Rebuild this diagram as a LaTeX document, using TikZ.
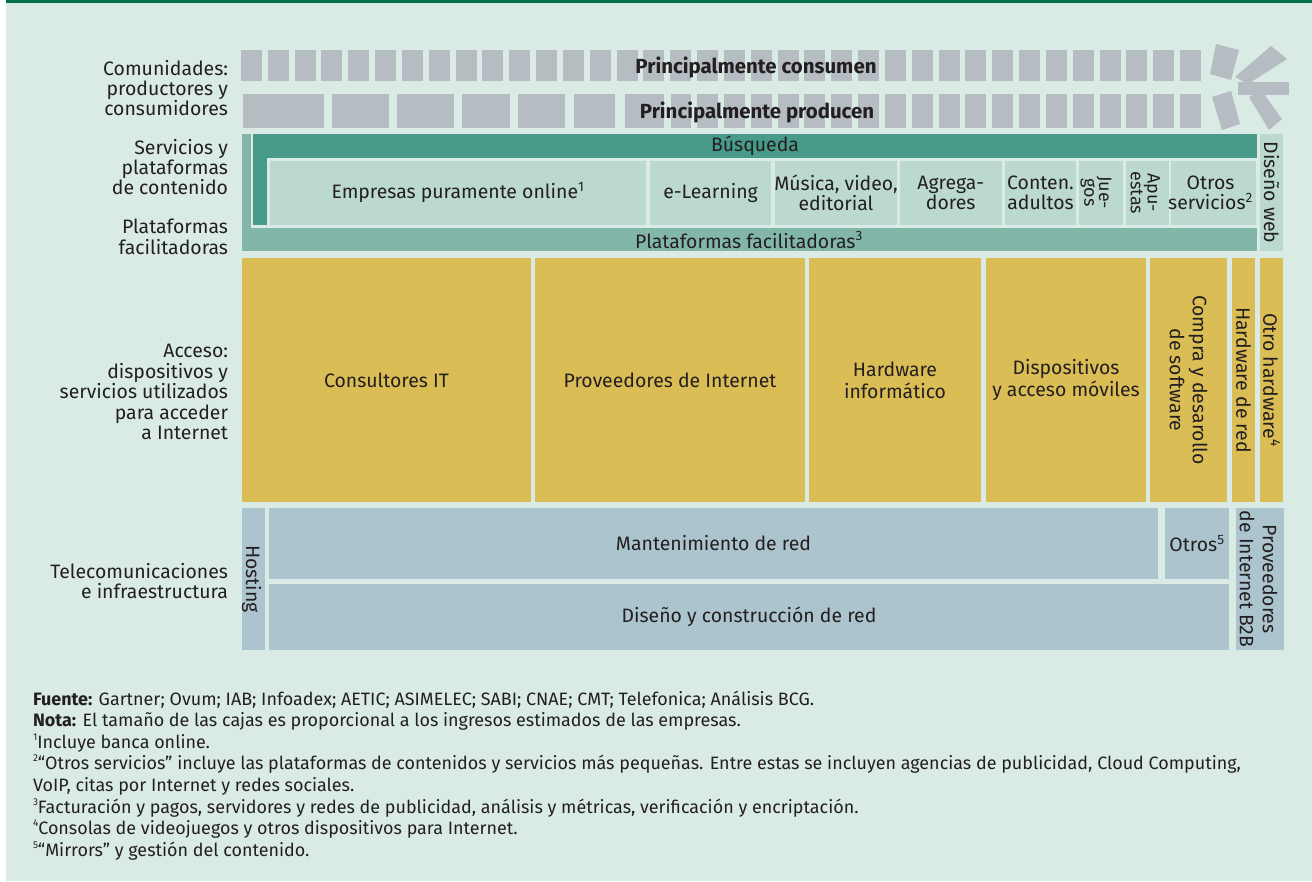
\documentclass[tikz,border=0pt]{standalone}
\usepackage{fontspec}
\setmainfont{Fira Sans}
\usetikzlibrary{fit}
\definecolor{bg}{HTML}{DAEBE5}
\definecolor{topbar}{HTML}{00704E}
\definecolor{grayb}{HTML}{B5BCC2}
\definecolor{tealdk}{HTML}{489A89}
\definecolor{tealmd}{HTML}{82B6A9}
\definecolor{teallt}{HTML}{BBD8D1}
\definecolor{yel}{HTML}{DBBD56}
\definecolor{blu}{HTML}{ABC4CE}
\definecolor{ink}{HTML}{231F20}
\newcommand\mainf{\fontsize{19.5}{20.5}\selectfont}
\newcommand\rotf{\fontsize{19.5}{23}\selectfont}
\newcommand\notef{\fontsize{18}{21.6}\selectfont}
\newcommand\smf{\fontsize{18}{15}\selectfont}
\newcommand\boldf{\fontsize{20.5}{20}\selectfont\bfseries}
\newcommand\supn[1]{\textsuperscript{#1}}
\newcommand\fnum[1]{\raisebox{0.42em}{\fontsize{10}{10}\selectfont #1}}
\newcommand\cellbox[6]{\node[fit={(#3,#4)(#5,#6)}, fill=#2, cellstyle] (#1) {};}
\begin{document}
\begin{tikzpicture}[x=1bp,y=-1bp,
  every node/.style={inner sep=0pt, outer sep=0pt, text=ink},
  cellstyle/.style={inner sep=0pt, outer sep=0pt, draw=none},
  ctext/.style={align=center, font=\mainf},
  rtext/.style={align=center, font=\rotf, rotate=-90},
  stext/.style={align=center, font=\smf, rotate=-90},
  lbl/.style={anchor=east, align=right, font=\mainf},
  note/.style={anchor=base west, font=\notef},
  hdr/.style={font=\boldf}
]
\useasboundingbox (0,0) rectangle (1312,881);
\fill[white] (0,0) rectangle (1312,881);
\fill[bg] (6,0) rectangle (1312,881);
\fill[topbar] (6,0) rectangle (1312,3);

% community rows
\foreach \i in {0,...,35} \fill[grayb] ({241+26.83*\i},50) rectangle ++(21,31);
\foreach \a/\b in {243/324,332/389,397/454,462/510,518/565,574/615,625/664,671/691}
  \fill[grayb] (\a,94) rectangle (\b,128);
\foreach \i in {17,...,35} \fill[grayb] ({241+26.83*\i},94) rectangle ++(21,34);
\fill[grayb] (1216,44)--(1239,50)--(1231,80)--(1210,74)--cycle;
\fill[grayb] (1271,46)--(1287,59)--(1248,84)--(1235,77)--cycle;
\fill[grayb] (1238,82) rectangle (1289,95);
\fill[grayb] (1212,97)--(1231,91)--(1240,124)--(1222,130)--cycle;
\fill[grayb] (1249,97)--(1261,90)--(1282,119)--(1269,130)--cycle;
\node[hdr] (cons) at (756,67) {Principalmente consumen};
\node[hdr] (prod) at (757,112) {Principalmente producen};

% services and platforms
\cellbox{plat}{tealmd}{242}{134}{1257}{251}
\fill[bg] (251,134) rectangle (1257,228);
\cellbox{busq}{tealdk}{252.5}{134}{1257}{224.5}
\fill[bg] (267,158) rectangle (1257,224.5);
\node[ctext] (busqt) at (755,146) {Búsqueda};
\node[ctext] (platt) at (749,240) {Plataformas facilitadoras\supn{3}};
\cellbox{empr}{teallt}{270}{161}{646}{224.5}
\cellbox{elea}{teallt}{650}{161}{771}{224.5}
\cellbox{musi}{teallt}{775}{161}{897}{224.5}
\cellbox{agre}{teallt}{900}{161}{1001.5}{224.5}
\cellbox{cont}{teallt}{1005}{161}{1076}{224.5}
\cellbox{jueg}{teallt}{1079}{161}{1123}{224.5}
\cellbox{apue}{teallt}{1126}{161}{1168.5}{224.5}
\cellbox{otro}{teallt}{1171}{161}{1256}{224.5}
\cellbox{disw}{teallt}{1260}{134}{1283}{251}
\node[ctext] at (empr) {Empresas puramente online\supn{1}};
\node[ctext] at (elea) {e-Learning};
\node[ctext] at (musi) {Música, video,\\editorial};
\node[ctext] at (agre) {Agrega-\\dores};
\node[ctext] at (cont) {Conten.\\adultos};
\node[stext] at ([xshift=-5]jueg.center) {Jue-\\gos};
\node[stext] at ([xshift=-2]apue.center) {Apu-\\estas};
\node[ctext] at ([xshift=-3]otro.center) {Otros\\servicios\supn{2}};
\node[rtext] at (disw) {Diseño web};

% access
\cellbox{cons2}{yel}{242}{258}{531}{502}
\cellbox{prov}{yel}{535}{258}{805}{502}
\cellbox{hard}{yel}{809}{258}{981}{502}
\cellbox{disp}{yel}{986}{258}{1146}{502}
\cellbox{comp}{yel}{1150}{258}{1227}{502}
\cellbox{hred}{yel}{1232}{258}{1255}{502}
\cellbox{ohar}{yel}{1260}{258}{1283}{502}
\node[ctext] at (cons2) {Consultores IT};
\node[ctext] at (prov) {Proveedores de Internet};
\node[ctext, font=\fontsize{19.5}{22}\selectfont] at (hard) {Hardware\\informático};
\node[ctext, font=\fontsize{19.5}{22}\selectfont] at (disp) {Dispositivos\\y acceso móviles};
\node[rtext] at (comp) {Compra y desarollo\\de software};
\node[rtext] at (hred) {Hardware de red};
\node[rtext] at (ohar) {Otro hardware\supn{4}};

% telecom
\cellbox{host}{blu}{242}{508}{265}{650}
\cellbox{mant}{blu}{269}{508}{1158}{579}
\cellbox{otr5}{blu}{1165}{508}{1229}{579}
\cellbox{dise}{blu}{269}{584}{1229}{650}
\cellbox{b2b}{blu}{1236}{508}{1284}{650}
\node[rtext] at ([xshift=-2]host.center) {Hosting};
\node[ctext] at (mant) {Mantenimiento de red};
\node[ctext] at (otr5) {Otros\supn{5}};
\node[ctext] at (dise) {Diseño y construcción de red};
\node[rtext] at ([xshift=-1.5]b2b.center) {Proveedores\\de Internet B2B};

% left labels
\node[lbl] (l1) at (228,88) {Comunidades:\\productores y\\consumidores};
\node[lbl] (l2) at (228,167) {Servicios y\\plataformas\\de contenido};
\node[lbl] (l3) at (228,237) {Plataformas\\facilitadoras};
\node[lbl] (l4) at (228,392) {Acceso:\\dispositivos y\\servicios utilizados\\para acceder\\a Internet};
\node[lbl] (l5) at (228,581) {Telecomunicaciones\\e infraestructura};

% notes
\node[note] (n1) at (33,705) {\textbf{Fuente:} Gartner; Ovum; IAB; Infoadex; AETIC; ASIMELEC; SABI; CNAE; CMT; Telefonica; Análisis BCG.};
\node[note] (n2) at (33,726) {\textbf{Nota:} El tamaño de las cajas es proporcional a los ingresos estimados de las empresas.};
\node[note] (n3) at (33,748) {\fnum{1}Incluye banca online.};
\node[note] (n4) at (33,769) {\fnum{2}“Otros servicios” incluye las plataformas de contenidos y servicios más pequeñas. Entre estas se incluyen agencias de publicidad, Cloud Computing,};
\node[note] (n5) at (33,791) {VoIP, citas por Internet y redes sociales.};
\node[note] (n6) at (33,813) {\fnum{3}Facturación y pagos, servidores y redes de publicidad, análisis y métricas, verificación y encriptación.};
\node[note] (n7) at (33,834) {\fnum{4}Consolas de videojuegos y otros dispositivos para Internet.};
\node[note] (n8) at (33,856) {\fnum{5}“Mirrors” y gestión del contenido.};
\end{tikzpicture}
\end{document}
